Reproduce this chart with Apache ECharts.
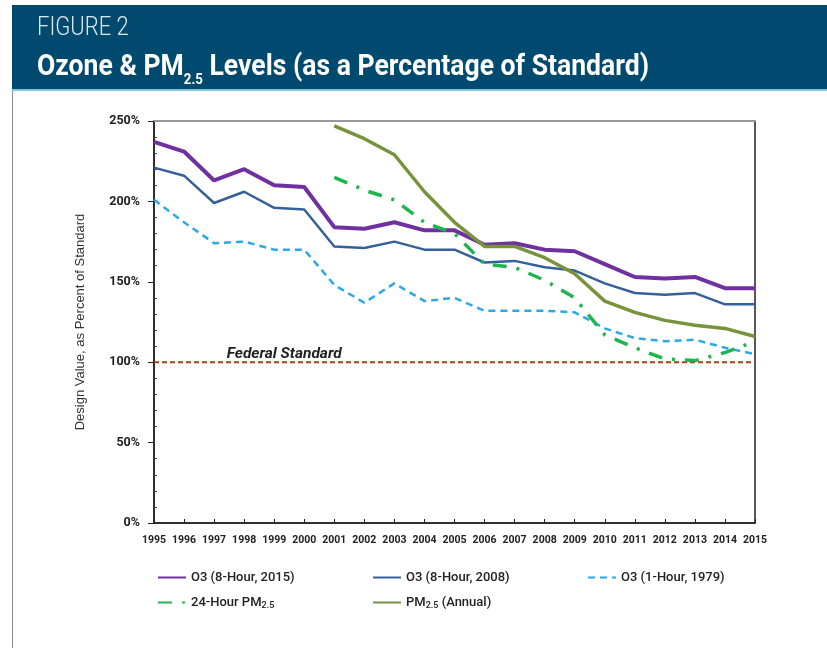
<!DOCTYPE html>
<html>
<head>
<meta charset="utf-8">
<script src="https://cdn.jsdelivr.net/npm/echarts@6/dist/echarts.min.js"></script>
<style>
  html, body { margin: 0; padding: 0; background: #fff; }
  #chart { width: 827px; height: 648px; }
</style>
</head>
<body>
<div id="chart"></div>
<script>
const years = ["1995", "1996", "1997", "1998", "1999", "2000", "2001", "2002", "2003", "2004", "2005",
  "2006", "2007", "2008", "2009", "2010", "2011", "2012", "2013", "2014", "2015"];
const o3_8h_2015 = [237, 231, 213, 220, 210, 209, 184, 183, 187, 182, 182, 173, 174, 170, 169, 161, 153, 152, 153, 146, 146];
const o3_8h_2008 = [221, 216, 199, 206, 196, 195, 172, 171, 175, 170, 170, 162, 163, 159, 157, 149, 143, 142, 143, 136, 136];
const o3_1h_1979 = [201, 187, 174, 175, 170, 170, 148, 137, 149, 138, 140, 132, 132, 132, 131, 121, 115, 113, 114, 109, 105];
const pm25_24h = [null, null, null, null, null, null, 215, 207, 201, 187, 180, 161, 159, 151, 140, 117, 109, 102, 101, 106, 113];
const pm25_annual = [null, null, null, null, null, null, 247, 239, 229, 206, 187, 172, 172, 165, 155, 138, 131, 126, 123, 121, 116];
const federalStandard = years.map(() => 100);

var myChart = echarts.init(document.getElementById("chart"));
const subRich = {
  sub: { fontSize: 9, fontWeight: 500, color: "#222", fontFamily: "Roboto", padding: [7, 0, 0, 0] },
};
// one legend block per entry so they sit where the original put them
function legendItem(name, left, top) {
  return {
    data: [name],
    left: left,
    top: top,
    padding: 0,
    itemWidth: 28,
    itemHeight: 14,
    itemStyle: { opacity: 0 },
    textStyle: { fontFamily: "Roboto", fontSize: 13, fontWeight: 500, color: "#222", rich: subRich },
    formatter: function (n) {
      return n.replace("PM2.5", "PM{sub|2.5}");
    },
  };
}
var option = {
  animation: false,
  backgroundColor: "#fff",
  graphic: [
    { type: "rect", shape: { x: 12, y: 5, width: 815, height: 85 }, style: { fill: "#004a6f" } },
    { type: "rect", shape: { x: 12, y: 89, width: 815, height: 2 }, style: { fill: "#7fc0dd" } },
    { type: "rect", shape: { x: 12, y: 91, width: 1, height: 557 }, style: { fill: "#8a8a8a" } },
    {
      type: "text", x: 37, y: 16, scaleX: 0.88,
      style: { text: "FIGURE 2", fill: "#dce6ee", font: "300 25px Roboto", textVerticalAlign: "top" },
    },
    {
      type: "text", x: 37, y: 47, scaleX: 0.885,
      style: {
        text: "Ozone & PM{s|2.5} Levels (as a Percentage of Standard)",
        fill: "#fff",
        font: "bold 30px Roboto",
        textVerticalAlign: "top",
        rich: { s: { fill: "#fff", font: "bold 15px Roboto", padding: [26, 0, 0, 0] } },
      },
    },
  ],
  grid: { left: 154, right: 72, top: 121, bottom: 125, show: true, borderColor: "#222", borderWidth: 1.5 },
  legend: [
    legendItem("O3 (8-Hour, 2015)", 157, 571),
    legendItem("O3 (8-Hour, 2008)", 372, 571),
    legendItem("O3 (1-Hour, 1979)", 587, 571),
    legendItem("24-Hour PM2.5", 157, 596),
    legendItem("PM2.5 (Annual)", 372, 596),
  ],
  xAxis: [
    {
      type: "category",
      data: years,
      boundaryGap: false,
      axisLine: { lineStyle: { color: "#222", width: 1.5 } },
      axisTick: { inside: true, length: 4, lineStyle: { color: "#222" } },
      axisLabel: { interval: 0, color: "#222", fontFamily: "Roboto", fontWeight: "bold", fontSize: 10.5, margin: 12 },
      splitLine: { show: false },
    },
    {
      type: "category",
      data: years,
      position: "top",
      boundaryGap: false,
      axisLine: { onZero: false, lineStyle: { color: "#999", width: 2 } },
      axisTick: { show: false },
      axisLabel: { show: false },
    },
  ],
  yAxis: [
    {
      type: "value",
      min: 0,
      max: 250,
      interval: 50,
      name: "Design Value, as Percent of Standard",
      nameLocation: "middle",
      nameGap: 67,
      nameTextStyle: { color: "#333", fontFamily: "Liberation Sans", fontSize: 13 },
      axisLine: { show: true, lineStyle: { color: "#222", width: 1.5 } },
      axisTick: { show: true, length: 6, lineStyle: { color: "#222" } },
      axisLabel: { color: "#222", fontFamily: "Roboto", fontWeight: "bold", fontSize: 12.5, margin: 14, formatter: "{value}%" },
      splitLine: { show: false },
    },
    {
      // minor ticks pointing into the plot along the left edge
      type: "value",
      min: 0,
      max: 250,
      interval: 50,
      position: "right",
      offset: -601,
      axisLine: { show: false },
      axisTick: { show: false },
      minorTick: { show: true, splitNumber: 5, length: 3, lineStyle: { color: "#444" } },
      axisLabel: { show: false },
      splitLine: { show: false },
    },
  ],
  series: [
    {
      name: "Federal Standard",
      type: "line",
      data: federalStandard,
      symbol: "none",
      lineStyle: { color: "#a0441e", width: 2, type: [5, 3] },
      z: 1,
      markPoint: {
        symbol: "circle",
        symbolSize: 1,
        itemStyle: { color: "rgba(0,0,0,0)" },
        data: [{ coord: ["1999", 100] }],
        label: {
          show: true,
          position: "inside",
          formatter: "Federal Standard",
          offset: [10, -8],
          color: "#222",
          fontFamily: "Roboto",
          fontStyle: "italic",
          fontWeight: "bold",
          fontSize: 15.5,
        },
      },
    },
    {
      name: "O3 (8-Hour, 2015)",
      type: "line",
      data: o3_8h_2015,
      symbol: "none",
      color: "#7030a0",
      lineStyle: { color: "#7030a0", width: 4 },
    },
    {
      name: "O3 (8-Hour, 2008)",
      type: "line",
      data: o3_8h_2008,
      symbol: "none",
      color: "#36609a",
      lineStyle: { color: "#36609a", width: 2.5 },
    },
    {
      name: "O3 (1-Hour, 1979)",
      type: "line",
      data: o3_1h_1979,
      symbol: "none",
      color: "#2aa9e6",
      lineStyle: { color: "#2aa9e6", width: 2.5, type: [7, 5] },
    },
    {
      name: "24-Hour PM2.5",
      type: "line",
      data: pm25_24h,
      symbol: "none",
      color: "#1db64c",
      lineStyle: { color: "#1db64c", width: 3.5, type: [14, 10, 3, 10] },
    },
    {
      name: "PM2.5 (Annual)",
      type: "line",
      data: pm25_annual,
      symbol: "none",
      color: "#77933c",
      lineStyle: { color: "#77933c", width: 3.5 },
    },
  ],
};
myChart.setOption(option);
</script>
</body>
</html>
